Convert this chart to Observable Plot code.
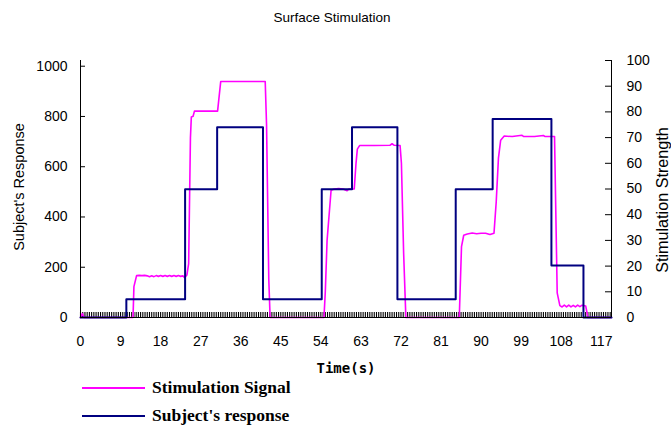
<!DOCTYPE html>
<html><head><meta charset="utf-8">
<script src="https://cdn.jsdelivr.net/npm/d3@7"></script>
<script src="https://cdn.jsdelivr.net/npm/@observablehq/plot@0.6"></script>
<style>
body{margin:0;background:#fff}
#wrap{position:relative;width:671px;height:425px;overflow:hidden;background:#fff}
#wrap svg{position:absolute;left:0;top:0}
.t{position:absolute;white-space:nowrap;color:#000;line-height:1}
.title{font:13.5px "Liberation Sans",Arial,sans-serif;transform:translate(-50%,-50%)}
.ylab{font:14.5px "Liberation Sans",Arial,sans-serif;transform:translate(-50%,-50%) rotate(-90deg)}
.ylab2{font:16.5px "Liberation Sans",Arial,sans-serif;transform:translate(-50%,-50%) rotate(-90deg) scaleX(0.98)}
.xlab{font:bold 14px "DejaVu Sans Mono",monospace;transform:translate(-50%,-50%)}
.leg{font:bold 17.5px "Liberation Serif","Times New Roman",serif;transform:translate(0,-50%)}
.legline{position:absolute;width:63px}
</style>
</head><body><div id="wrap"></div>
<script>
// ---- data ----
const titleText = "Surface Stimulation";
const xLabel = "Time(s)";
const leftLabel = "Subject's Response";
const rightLabel = "Stimulation Strength";
const seriesNames = ["Stimulation Signal", "Subject's response"];
const seriesColors = ["#FF00FF", "#000080"];

const xTicks = [0, 9, 18, 27, 36, 45, 54, 63, 72, 81, 90, 99, 108, 117];
const leftTicks = [0, 200, 400, 600, 800, 1000];
const rightTicks = [0, 10, 20, 30, 40, 50, 60, 70, 80, 90, 100];

// Subject's response (left axis), step-after vertices
const respTime  = [0, 10.3, 23.5, 30.7, 41.0, 54.2, 61.0, 71.2, 84.3, 92.6, 105.8, 113.0, 119.3];
const respValue = [0, 73, 510, 757, 73, 510, 757, 73, 510, 790, 207, 0, 0];

// Stimulation signal (right axis)
const stimTime = [0, 0.4, 0.8, 11.8, 12.0, 12.6, 13.2, 13.8, 14.4, 15.0, 15.5, 16.0, 16.5, 17.0, 17.5, 18.0, 18.5, 19.0, 19.5, 20.0, 20.5, 21.0, 21.5, 22.0, 22.5, 23.0, 23.4, 23.9, 24.3, 24.7, 24.9, 25.3, 25.6, 30.8, 31.5, 41.5, 41.8, 42.3, 42.6,
  54.7, 55.0, 55.4, 56.3, 57.0, 58.0, 59.0, 59.9, 60.3, 61.5, 61.9, 62.2, 62.7, 66.0, 69.5, 70.0, 70.5, 71.8, 72.1, 72.6, 73.1,
  85.1, 85.6, 86.1, 86.9, 88.0, 89.0, 90.0, 91.0, 92.0, 92.9, 93.4, 93.9, 94.4, 95.2, 97.0, 99.2, 99.6, 102.0, 104.0, 104.4, 106.5, 107.1, 107.7, 108.2, 108.7, 109.2, 109.7, 110.2, 110.7, 111.2, 111.7, 112.2, 112.7, 113.5, 114.0, 119.3];
const stimValue = [0, 1.5, 0, 0, 12, 16.3, 16.4, 16.3, 16.4, 16.2, 15.9, 16.2, 15.9, 16.3, 16.0, 16.3, 16.0, 16.3, 16.0, 16.3, 16.0, 16.3, 16.0, 16.3, 16.0, 16.2, 15.5, 16.5, 21, 70, 78, 78.3, 80.3, 80.3, 91.8, 91.8, 75, 15, 0,
  0, 10, 30, 49.5, 50, 50.2, 50, 49.3, 50, 50, 60, 65.5, 66.9, 66.9, 67, 67.6, 67, 66.9, 60, 25, 0,
  0, 27.6, 32, 32.5, 32.9, 32.6, 32.8, 32.8, 32.3, 32.8, 45, 62, 69, 70.6, 70.4, 70.9, 70.4, 70.4, 70.8, 70.4, 70.4, 9.6, 4.6, 4.1, 4.8, 4.1, 4.8, 4.1, 4.7, 4.1, 4.8, 4.2, 4.8, 4.5, 0, 0];

// ---- geometry of the two y axes ----
const leftTop = 1022.7;           // left-axis value at the top of the frame
const k = leftTop / 100;          // right-axis 100 maps to the frame top
const xMax = 119.3;
const sampleTimes = d3.range(0, xMax, 0.5);   // category tick marks along the time axis

const resp = respTime.map((t, i) => ({t, v: respValue[i]}));
const stim = stimTime.map((t, i) => ({t, v: stimValue[i] * k}));

const W = 671, H = 425, mL = 80, mR = 60, mT = 60, mB = 108;
const plotW = W - mL - mR, plotH = H - mT - mB;

const chart = Plot.plot({
  width: W, height: H,
  marginLeft: mL, marginRight: mR, marginTop: mT, marginBottom: mB,
  style: {fontSize: "14px", fontFamily: "'Liberation Sans', Arial, sans-serif", background: "white", color: "black"},
  x: {domain: [0, xMax], axis: null},
  y: {domain: [0, leftTop], axis: null},
  marks: [
    Plot.tickX(sampleTimes, {x: d => d, insetTop: plotH - 5, stroke: "black", strokeWidth: 1.1}),
    Plot.line(stim, {x: "t", y: "v", stroke: seriesColors[0], strokeWidth: 1.6}),
    Plot.line(resp, {x: "t", y: "v", stroke: seriesColors[1], strokeWidth: 2, curve: "step-after"}),
    Plot.ruleY([0], {stroke: "black", strokeWidth: 1}),
    Plot.ruleX([0], {stroke: "black", strokeWidth: 1}),
    Plot.ruleX([xMax], {stroke: "black", strokeWidth: 1}),
    Plot.tickY(leftTicks, {y: d => d, insetRight: plotW - 5, stroke: "black"}),
    Plot.tickY(rightTicks.map(v => v * k), {y: d => d, insetLeft: plotW - 6, stroke: "black"}),
    Plot.axisY({anchor: "left", ticks: leftTicks, tickSize: 0, tickPadding: 13, tickFormat: d => String(d), label: null}),
    Plot.axisY({anchor: "right", ticks: rightTicks.map(v => v * k), tickFormat: d => String(Math.round(d / k)), tickSize: 0, tickPadding: 15, textAnchor: "start", label: null}),
    Plot.axisX({ticks: xTicks, tickSize: 0, tickPadding: 19, tickFormat: d => String(d), label: null})
  ]
});

const wrap = document.getElementById("wrap");
wrap.appendChild(chart);

function addText(cls, txt, x, y) {
  const d = document.createElement("div");
  d.className = "t " + cls;
  d.textContent = txt;
  d.style.left = x + "px";
  d.style.top = y + "px";
  wrap.appendChild(d);
}
addText("title", titleText, 332, 17);
addText("ylab", leftLabel, 19, 187);
addText("ylab2", rightLabel, 662, 200);
addText("xlab", xLabel, 346, 368);

const legY = [388, 416];
const legW = [2, 2.5];
seriesNames.forEach((name, i) => {
  const l = document.createElement("div");
  l.className = "legline";
  l.style.left = "82px";
  l.style.top = (legY[i] - legW[i] / 2) + "px";
  l.style.height = legW[i] + "px";
  l.style.background = seriesColors[i];
  wrap.appendChild(l);
  addText("leg", name, 152, legY[i] - 1);
});
</script>
</body></html>
